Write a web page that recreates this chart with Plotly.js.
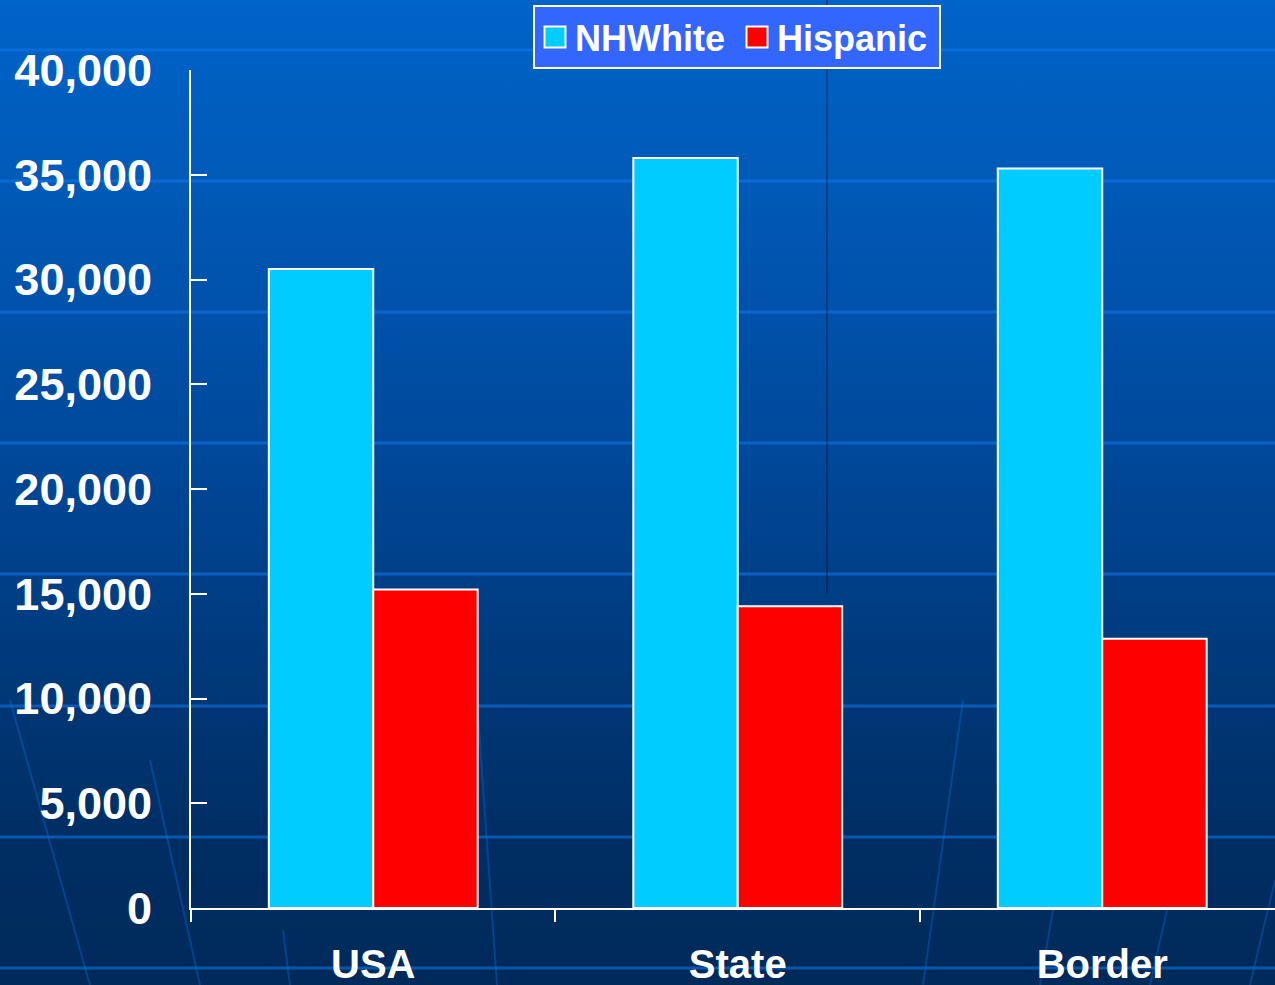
<!DOCTYPE html>
<html>
<head>
<meta charset="utf-8">
<script src="https://cdn.plot.ly/plotly-3.0.1.min.js"></script>
<style>
  html, body { margin: 0; padding: 0; width: 1275px; height: 985px; overflow: hidden; }
  body { background: linear-gradient(to bottom, #0063c9 0%, #0059b6 20%, #00499c 45%, #003b7e 65%, #002e64 85%, #002a5a 100%); }
  #chart { width: 1275px; height: 985px; }
</style>
</head>
<body>
<div id="chart"></div>
<script>
const categories = ["USA", "State", "Border"];
const nhWhite = [30500, 35800, 35300];
const hispanic = [15200, 14400, 12850];
const seriesNames = ["NHWhite", "Hispanic"];
const yTickVals = [0, 5000, 10000, 15000, 20000, 25000, 30000, 35000, 40000];

const W = 1275, H = 985, ML = 191, MT = 70, MB = 77;
const PW = W - ML, PH = H - MT - MB;
const xp = px => (px - ML) / PW;
const yp = py => (H - MB - py) / PH;

// decorative background (slide backdrop)
const bgLinesY = [50, 181, 312, 443, 574, 706, 837, 968];
const shapes = bgLinesY.map(y => ({
  type: 'line', xref: 'paper', yref: 'paper', layer: 'below',
  x0: xp(0), x1: xp(W), y0: yp(y), y1: yp(y),
  line: { color: 'rgba(20,120,235,0.55)', width: 3 }
}));
const faint = [
  [[10, 700], [90, 985]],
  [[150, 760], [200, 985]],
  [[283, 930], [290, 985]],
  [[477, 700], [497, 985]],
  [[963, 700], [923, 985]],
  [[1053, 910], [1040, 985]],
  [[1167, 910], [1150, 985]],
  [[1275, 880], [1250, 985]]
];
faint.forEach(pts => {
  const d = pts.map((p, i) => (i ? 'L' : 'M') + xp(p[0]).toFixed(4) + ',' + yp(p[1]).toFixed(4)).join(' ');
  shapes.push({ type: 'path', xref: 'paper', yref: 'paper', layer: 'below', path: d,
    line: { color: 'rgba(20,120,235,0.3)', width: 2 } });
});
shapes.push({
  type: 'line', xref: 'paper', yref: 'paper', layer: 'below',
  x0: xp(827), x1: xp(827), y0: yp(0), y1: yp(595),
  line: { color: 'rgba(0,15,50,0.75)', width: 1 }
});

const fontBold = { family: 'Liberation Sans, Arial, sans-serif', weight: 'bold', color: '#ffffff' };

const traces = [
  {
    type: 'bar', name: seriesNames[0], x: categories, y: nhWhite,
    marker: { color: '#00ccff', line: { color: '#ffffff', width: 2 } }
  },
  {
    type: 'bar', name: seriesNames[1], x: categories, y: hispanic,
    marker: { color: '#ff0000', line: { color: '#ffffff', width: 2 } }
  }
];

const layout = {
  width: W, height: H,
  paper_bgcolor: 'rgba(0,0,0,0)', plot_bgcolor: 'rgba(0,0,0,0)',
  margin: { l: ML, r: 0, t: MT, b: MB, pad: 0, autoexpand: false },
  barmode: 'group', bargap: 0.427, bargroupgap: 0,
  showlegend: true,
  legend: {
    orientation: 'h', xref: 'container', yref: 'container',
    x: 533 / W, xanchor: 'left', y: 1 - 5 / H, yanchor: 'top',
    bgcolor: '#3366ff', bordercolor: '#ffffff', borderwidth: 2,
    font: Object.assign({ size: 36 }, fontBold),
    itemwidth: 30, entrywidth: 157
  },
  xaxis: {
    type: 'category', range: [-0.5, 2.474],
    showline: true, linecolor: '#ffffff', linewidth: 2,
    ticks: 'outside', tickson: 'boundaries', ticklen: 12, tickwidth: 2, tickcolor: '#ffffff',
    showgrid: false, zeroline: false,
    tickfont: Object.assign({ size: 40 }, fontBold),
    ticklabelstandoff: 20
  },
  yaxis: {
    range: [0, 40000], tickvals: yTickVals, tickformat: ',',
    showline: true, linecolor: '#ffffff', linewidth: 2,
    ticks: 'inside', ticklen: 16, tickwidth: 2, tickcolor: '#ffffff',
    showgrid: false, zeroline: false,
    tickfont: Object.assign({ size: 45 }, fontBold),
    ticklabelstandoff: 28
  },
  shapes: shapes
};

Plotly.newPlot('chart', traces, layout, { displayModeBar: false, staticPlot: true }).then(gd => {
  // enlarge legend swatches to match the reference's bigger squares
  gd.querySelectorAll('.legend .legendpoints path').forEach(p => {
    p.setAttribute('d', 'M10.5,10.5H-10.5V-10.5H10.5Z');
  });
});
</script>
</body>
</html>
